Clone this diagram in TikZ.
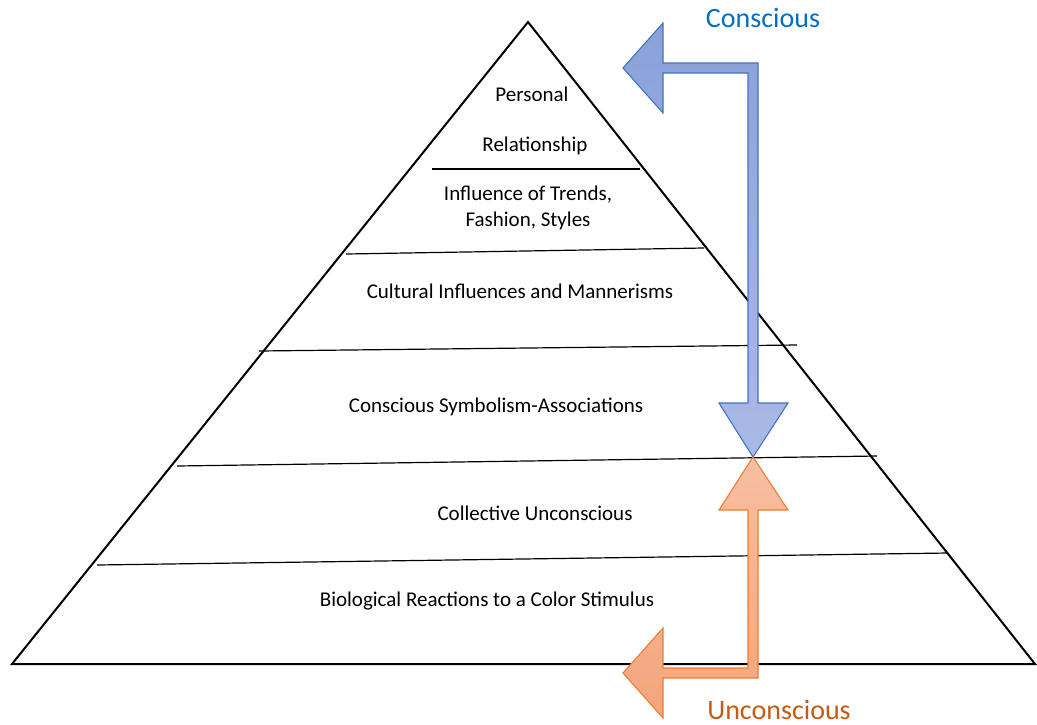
\documentclass[tikz,border=0pt]{standalone}
\usepackage{fontspec}
\setmainfont{Carlito}
\definecolor{bluefillA}{HTML}{8AA2DA}
\definecolor{bluefillB}{HTML}{AABAE5}
\definecolor{bluestroke}{HTML}{4472C4}
\definecolor{orangefillA}{HTML}{F6BFA2}
\definecolor{orangefillB}{HTML}{F4A57C}
\definecolor{orangestroke}{HTML}{ED7D31}
\definecolor{consciouscol}{HTML}{0070C0}
\definecolor{unconsciouscol}{HTML}{C55A11}
\begin{document}
\begin{tikzpicture}[x=1pt,y=-1pt,
  layertext/.style={font=\fontsize{21}{25}\selectfont, anchor=base, inner sep=0pt, align=center},
  bigtext/.style={font=\fontsize{28}{32}\selectfont, anchor=base, inner sep=0pt},
  divider/.style={draw=black, line width=1.2pt},
  pyr/.style={draw=black, line width=2pt, line join=miter},
  bluearrow/.style={draw=bluestroke, line width=1.1pt, top color=bluefillA, bottom color=bluefillB, line join=miter},
  orangearrow/.style={draw=orangestroke, line width=1.1pt, top color=orangefillA, bottom color=orangefillB, line join=miter}]
\useasboundingbox (0,0) rectangle (1037,724);
% pyramid
\coordinate (apex) at (528,22);
\coordinate (bl) at (12,664);
\coordinate (br) at (1035,664);
\draw[pyr] (apex) -- (bl) -- (br) -- cycle;
% dividers
\draw[divider] (432,169) -- (640,169);
\draw[divider] (346,254) -- (704,248);
\draw[divider] (259,351) -- (797,345);
\draw[divider] (177,466) -- (877,456);
\draw[divider] (97,565) -- (948,553);
% texts
\node[layertext] (personal) at (532,101) {Personal};
\node[layertext] (relation) at (535,151) {Relationship};
\node[layertext] (trends1) at (528,200) {Influence of Trends,};
\node[layertext] (trends2) at (528,226) {Fashion, Styles};
\node[layertext] (cultural) at (520,298) {Cultural Influences and Mannerisms};
\node[layertext] (symbol) at (496,412) {Conscious Symbolism-Associations};
\node[layertext] (collective) at (535,520) {Collective Unconscious};
\node[layertext] (bio) at (487,606) {Biological Reactions to a Color Stimulus};
% arrows
\draw[bluearrow] (623,68) -- (663,23) -- (663,63) -- (758,63) -- (758,403) -- (788,403) -- (753,457) -- (719,403) -- (748,403) -- (748,73) -- (663,73) -- (663,113) -- cycle;
\draw[orangearrow] (753,457) -- (788,510) -- (758,510) -- (758,678) -- (663,678) -- (663,718) -- (623,673) -- (663,628) -- (663,668) -- (748,668) -- (748,510) -- (719,510) -- cycle;
\node[bigtext, text=consciouscol] (conscious) at (763,27) {Conscious};
\node[bigtext, text=unconsciouscol] (unconscious) at (779,719) {Unconscious};
\end{tikzpicture}
\end{document}
